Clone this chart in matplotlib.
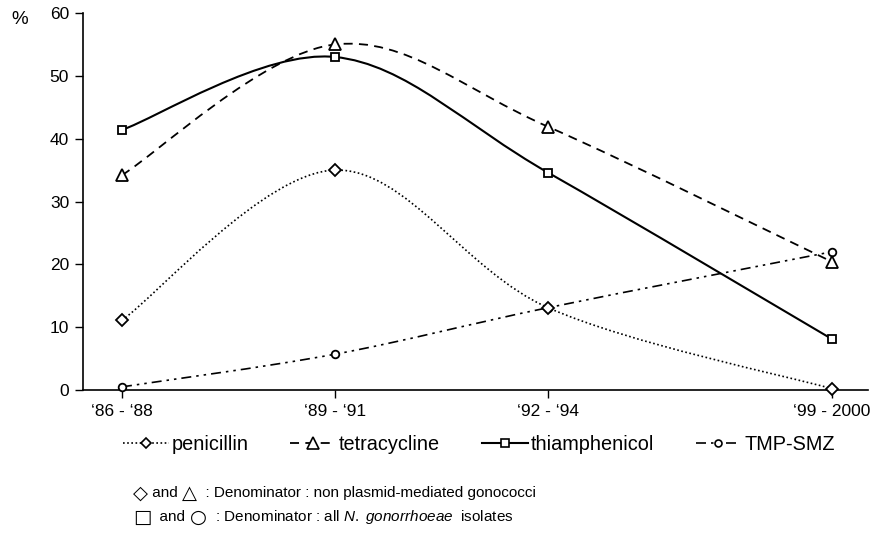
import matplotlib
matplotlib.use("Agg")
import matplotlib.pyplot as plt
from matplotlib.path import Path
from matplotlib.patches import PathPatch
from matplotlib.lines import Line2D

plt.rcParams['font.family'] = ['Liberation Sans', 'DejaVu Sans']
plt.rcParams['mathtext.fontset'] = 'custom'
plt.rcParams['mathtext.it'] = 'Liberation Sans:italic'
plt.rcParams['mathtext.rm'] = 'Liberation Sans'

# periods and their positions along the x axis (last gap is longer)
periods = ["\u201886 - \u201888", "\u201889 - \u201891", "\u201892 - \u201894", "\u201899 - 2000"]
xpos = [0, 1, 2, 3.333]

# resistance rates (%)
penicillin = [11.1, 35.0, 13.1, 0.2]
tetracycline = [34.2, 55.0, 41.9, 20.4]
thiamphenicol = [41.4, 53.0, 34.6, 8.1]
tmp_smz = [0.5, 5.7, 13.1, 22.0]


def smooth(x, y):
    # smoothed line through the points (cardinal spline as bezier path)
    pts = list(zip(x, y))
    n = len(pts)
    verts = [pts[0]]
    codes = [Path.MOVETO]
    for i in range(n - 1):
        p0 = pts[max(i - 1, 0)]
        p1 = pts[i]
        p2 = pts[i + 1]
        p3 = pts[min(i + 2, n - 1)]
        c1 = (p1[0] + (p2[0] - p0[0]) / 6, p1[1] + (p2[1] - p0[1]) / 6)
        c2 = (p2[0] - (p3[0] - p1[0]) / 6, p2[1] - (p3[1] - p1[1]) / 6)
        verts += [c1, c2, p2]
        codes += [Path.CURVE4] * 3
    return Path(verts, codes)


fig = plt.figure(figsize=(8.86, 5.39), dpi=100)
ax = fig.add_axes([83 / 886, 1 - 390 / 539, 785 / 886, 377 / 539])

series = [
    ("TMP-SMZ", tmp_smz, (0, (6, 3, 1.5, 3, 1.5, 3)), "o", 5.5, 1.2),
    ("penicillin", penicillin, (0, (1, 1.5)), "D", 6, 1.2),
    ("tetracycline", tetracycline, (0, (5, 3.5)), "^", 9, 1.3),
    ("thiamphenicol", thiamphenicol, "-", "s", 6, 1.5),
]
handles = {}
for name, vals, ls, mk, ms, lw in series:
    ax.add_patch(PathPatch(smooth(xpos, vals), fill=False, ec="black",
                           lw=lw, ls=ls, zorder=2))
    ax.plot(xpos, vals, ls="none", marker=mk, ms=ms, mfc="white",
            mec="black", mew=1.3, zorder=3, clip_on=False)
    handles[name] = Line2D([], [], color="black", ls=ls, lw=lw, marker=mk,
                           ms=ms - 0.5, mfc="white", mec="black", mew=1.2)

ax.set_xlim(-0.183, 3.502)
ax.set_ylim(0, 60)
ax.set_yticks(range(0, 61, 10))
ax.set_xticks(xpos)
ax.set_xticklabels(periods)
ax.tick_params(axis="both", labelsize=12.5, length=6, width=1)
ax.tick_params(axis="x", pad=4)
ax.tick_params(axis="y", pad=4)
for s in ["top", "right"]:
    ax.spines[s].set_visible(False)
for s in ["left", "bottom"]:
    ax.spines[s].set_linewidth(1.2)

fig.text(20 / 886, 1 - 19 / 539, "%", fontsize=13.5, ha="center", va="center")

order = ["penicillin", "tetracycline", "thiamphenicol", "TMP-SMZ"]
fig.legend([handles[k] for k in order], order, ncol=4, loc="center left",
           bbox_to_anchor=(123 / 886, 1 - 444 / 539), frameon=False,
           fontsize=14.3, handlelength=2.3, handletextpad=0.15,
           columnspacing=2.1, borderpad=0, borderaxespad=0)

# footnotes: bigger symbols, chained text pieces
notes = [
    (493, ["\u25C7", " and ", "\u25B3", "  : Denominator : non plasmid-mediated gonococci"]),
    (517, ["\u25A1", "  and ", "\u25CB", "  : Denominator : all $N.\\ gonorrhoeae$  isolates"]),
]
for ypix, parts in notes:
    prev = fig.text(133 / 886, 1 - ypix / 539, parts[0], fontsize=14,
                    va="center", family="DejaVu Sans")
    for k, part in enumerate(parts[1:]):
        sym = (k % 2 == 1)
        prev = ax.annotate(part, xy=(1, 0.5), xycoords=prev, va="center",
                           ha="left", fontsize=14 if sym else 11,
                           family="DejaVu Sans" if sym else None,
                           annotation_clip=False)

fig.savefig("out.png", dpi=100)
